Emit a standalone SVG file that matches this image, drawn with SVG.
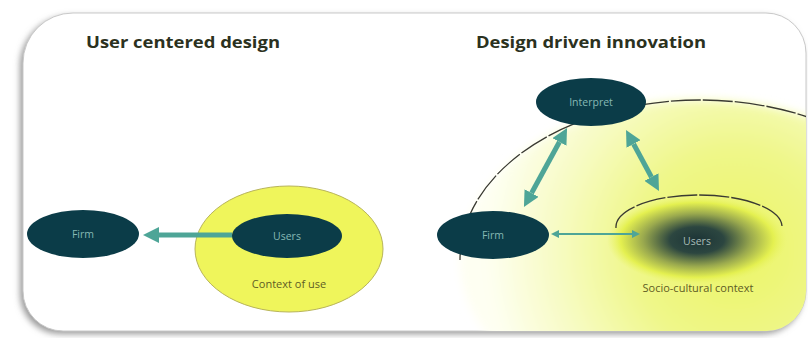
<svg xmlns="http://www.w3.org/2000/svg" width="808" height="338" viewBox="0 0 808 338">
  <defs>
    <style>
      .title { font-family: "Open Sans", "Liberation Sans", sans-serif; font-weight: bold; font-size: 16px; fill: #2b3120; }
      .node { fill: #0b3c48; }
      .nlabel { font-family: "Open Sans", "Liberation Sans", sans-serif; font-size: 10.5px; fill: #86b9b4; text-anchor: middle; }
      .ctx { font-family: "Open Sans", "Liberation Sans", sans-serif; font-size: 11px; fill: #5e5c24; text-anchor: middle; }
      .thick { stroke: #4ea597; stroke-width: 5; fill: none; }
      .thin { stroke: #4ea597; stroke-width: 2; fill: none; }
      .dash { stroke: #3a3a32; stroke-width: 1.3; fill: none; stroke-dasharray: 30 2; }
    </style>
    <marker id="ah" viewBox="0 0 16 16" markerUnits="userSpaceOnUse" markerWidth="16" markerHeight="16" refX="0" refY="8" orient="auto-start-reverse">
      <path d="M0,0 L16,8 L0,16 Z" fill="#4ea597"/>
    </marker>
    <marker id="ahs" viewBox="0 0 8 8" markerUnits="userSpaceOnUse" markerWidth="8" markerHeight="8" refX="0" refY="4" orient="auto-start-reverse">
      <path d="M0,0 L8,4 L0,8 Z" fill="#4ea597"/>
    </marker>
    <filter id="shadow" x="-5%" y="-5%" width="110%" height="115%">
      <feGaussianBlur stdDeviation="3"/>
    </filter>
    <filter id="soft" x="-10%" y="-10%" width="120%" height="120%">
      <feGaussianBlur stdDeviation="5"/>
    </filter>
    <clipPath id="frameClip">
      <path d="M23,63 A50 50 0 0 1 73,13 L766,13 A40 40 0 0 1 806,53 L806,291 A40 40 0 0 1 766,331 L63,331 A40 40 0 0 1 23,291 Z"/>
    </clipPath>
    <radialGradient id="socio" gradientUnits="userSpaceOnUse" cx="735" cy="250" r="250">
      <stop offset="0" stop-color="#ebf566"/>
      <stop offset="0.4" stop-color="#eff789"/>
      <stop offset="0.72" stop-color="#f7fbc4"/>
      <stop offset="1" stop-color="#fefff2"/>
    </radialGradient>
    <radialGradient id="usersBlur" cx="0.5" cy="0.5" r="0.5">
      <stop offset="0" stop-color="#1c3436"/>
      <stop offset="0.3" stop-color="#2c4640"/>
      <stop offset="0.6" stop-color="#9aa94e"/>
      <stop offset="0.85" stop-color="#e4f050"/>
      <stop offset="1" stop-color="#eaf46a" stop-opacity="0"/>
    </radialGradient>
  </defs>

  <rect width="808" height="338" fill="#ffffff"/>

  <!-- frame -->
  <g id="frame">
    <path d="M23,63 A50 50 0 0 1 73,13 L766,13 A40 40 0 0 1 806,53 L806,291 A40 40 0 0 1 766,331 L63,331 A40 40 0 0 1 23,291 Z" transform="translate(-3,3)" fill="#9a9a9a" filter="url(#shadow)"/>
    <path d="M23,63 A50 50 0 0 1 73,13 L766,13 A40 40 0 0 1 806,53 L806,291 A40 40 0 0 1 766,331 L63,331 A40 40 0 0 1 23,291 Z" fill="#ffffff" stroke="#c9c9c9" stroke-width="1"/>
  </g>

  <!-- titles -->
  <text class="title" x="86" y="48" textLength="194" lengthAdjust="spacingAndGlyphs">User centered design</text>
  <text class="title" x="476" y="48" textLength="230" lengthAdjust="spacingAndGlyphs">Design driven innovation</text>

  <!-- left diagram -->
  <g id="context-of-use">
    <ellipse cx="289" cy="249" rx="94" ry="63" fill="#eff55b" stroke="#b8b45a" stroke-width="1"/>
    <text class="ctx" x="289" y="288">Context of use</text>
  </g>
  <g id="firm-left">
    <ellipse class="node" cx="83" cy="234" rx="56" ry="24"/>
    <text class="nlabel" x="83" y="238">Firm</text>
  </g>
  <g id="users-left">
    <ellipse class="node" cx="287" cy="236" rx="55" ry="22"/>
    <text class="nlabel" x="287" y="240">Users</text>
  </g>

  <!-- right diagram -->
  <g id="socio-cultural-context" clip-path="url(#frameClip)">
    <ellipse cx="700" cy="260" rx="240" ry="160" fill="url(#socio)" filter="url(#soft)"/>
    <path class="dash" d="M460,260 A240 160 0 0 1 940,260"/>
    <text class="ctx" x="698" y="292">Socio-cultural context</text>
  </g>
  <g id="users-right">
    <ellipse cx="697" cy="240" rx="90" ry="44" fill="url(#usersBlur)"/>
    <path class="dash" d="M616,228 A83 32 0 0 1 782,226" stroke-dasharray="55 3"/>
    <text class="nlabel" x="697" y="245" style="fill:#a9bcb6">Users</text>
  </g>
  <g id="interpret">
    <ellipse class="node" cx="591" cy="102" rx="55" ry="24"/>
    <text class="nlabel" x="591" y="106">Interpret</text>
  </g>
  <g id="firm-right">
    <ellipse class="node" cx="493" cy="235" rx="56" ry="24"/>
    <text class="nlabel" x="493" y="239">Firm</text>
  </g>

  <!-- connectors -->
  <g id="connectors">
    <line class="thick" x1="232" y1="235" x2="159" y2="235" marker-end="url(#ah)"/>
    <line class="thick" x1="531.6" y1="193" x2="559.4" y2="142" marker-start="url(#ah)" marker-end="url(#ah)"/>
    <line class="thick" x1="633.6" y1="144" x2="651.4" y2="177" marker-start="url(#ah)" marker-end="url(#ah)"/>
    <line class="thin" x1="559" y1="234" x2="632" y2="234" marker-start="url(#ahs)" marker-end="url(#ahs)"/>
  </g>
</svg>
